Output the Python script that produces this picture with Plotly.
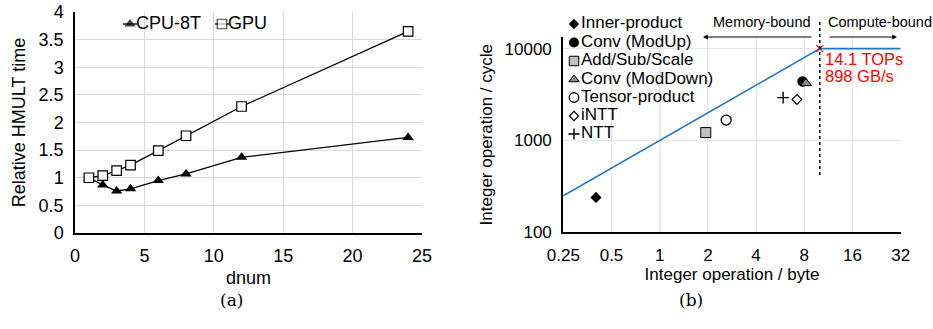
import plotly.graph_objects as go
import math

# ---------------- data ----------------
dnum = [1, 2, 3, 4, 6, 8, 12, 24]
cpu_8t = [1.0, 0.87, 0.76, 0.80, 0.95, 1.07, 1.37, 1.73]
gpu = [1.0, 1.04, 1.13, 1.23, 1.49, 1.76, 2.29, 3.65]

left_yticks = [0, 0.5, 1, 1.5, 2, 2.5, 3, 3.5, 4]
left_xticks = [0, 5, 10, 15, 20, 25]

kernel_names = ["Inner-product", "Conv (ModUp)", "Add/Sub/Scale", "Conv (ModDown)",
                "Tensor-product", "iNTT", "NTT"]
kernel_intensity = [0.40, 7.8, 1.94, 8.2, 2.6, 7.2, 5.9]      # int op / byte
kernel_perf = [240, 4400, 1220, 4200, 1670, 2800, 2930]       # int op / cycle

roof_x = [0.25, 10, 32]
roof_y = [250, 10000, 10000]
ridge_x = [10]
ridge_y = [10000]

right_xticks = [0.25, 0.5, 1, 2, 4, 8, 16, 32]
right_xticklabels = ["0.25", "0.5", "1", "2", "4", "8", "16", "32"]
right_yticks = [100, 1000, 10000]

# ---------------- layout helpers ----------------
W, H = 933, 329
def px(x):
    return x / W
def py(y):
    return 1 - y / H

SANS = "Liberation Sans, Arial, sans-serif"
SERIF = "DejaVu Serif, Liberation Serif, serif"

fig = go.Figure()

# left chart
fig.add_trace(go.Scatter(x=dnum, y=cpu_8t, mode="lines+markers", name="CPU-8T",
                         line=dict(color="black", width=1.3),
                         marker=dict(symbol="triangle-up", size=10, color="black"),
                         xaxis="x", yaxis="y", showlegend=False))
fig.add_trace(go.Scatter(x=dnum, y=gpu, mode="lines+markers", name="GPU",
                         line=dict(color="black", width=1.3),
                         marker=dict(symbol="square", size=9.5, color="white",
                                     line=dict(color="black", width=1.2)),
                         xaxis="x", yaxis="y", showlegend=False))

# right chart roofline
fig.add_trace(go.Scatter(x=roof_x, y=roof_y, mode="lines",
                         line=dict(color="#1f77c4", width=1.6),
                         xaxis="x2", yaxis="y2", showlegend=False))
fig.add_trace(go.Scatter(x=ridge_x, y=ridge_y, mode="markers",
                         marker=dict(symbol="x-thin", size=7, color="red",
                                     line=dict(color="red", width=1.2)),
                         xaxis="x2", yaxis="y2", showlegend=False, cliponaxis=False))

k_symbols = ["diamond", "circle", "square", "triangle-up", "circle",
             "diamond", "cross-thin"]
k_colors = ["black", "black", "#bfbfbf", "#8c8c8c", "white", "white", "black"]
k_sizes = [8.5, 10.5, 10, 9.5, 10, 7.5, 8.5]
k_line_w = [0, 0, 1, 1, 1.3, 1.2, 1.4]

for i, n in enumerate(kernel_names):
    fig.add_trace(go.Scatter(x=[kernel_intensity[i]], y=[kernel_perf[i]], mode="markers",
                             name=n,
                             marker=dict(symbol=k_symbols[i], size=k_sizes[i],
                                         color=k_colors[i],
                                         line=dict(color="black", width=k_line_w[i])),
                             xaxis="x2", yaxis="y2", showlegend=False))

# manual legends on a hidden pixel-like axis
leg_right_x = 574
leg_right_y = [24, 42.5, 61, 79.5, 97.5, 116, 134]
for i, n in enumerate(kernel_names):
    fig.add_trace(go.Scatter(x=[leg_right_x], y=[leg_right_y[i]], mode="markers",
                             marker=dict(symbol=k_symbols[i], size=k_sizes[i] - 0.5,
                                         color=k_colors[i],
                                         line=dict(color="black", width=k_line_w[i])),
                             xaxis="x3", yaxis="y3", showlegend=False, cliponaxis=False))
    fig.add_trace(go.Scatter(x=[leg_right_x + 7], y=[leg_right_y[i]], mode="text",
                             text=[n], textposition="middle right",
                             textfont=dict(family=SANS, size=17, color="black"),
                             xaxis="x3", yaxis="y3", showlegend=False, cliponaxis=False))

leg_left = [("CPU-8T", "triangle-up", "black", 0, 130, 10),
            ("GPU", "square", "white", 1.2, 222, 9.5)]
for name, sym, col, lw, cx, sz in leg_left:
    fig.add_trace(go.Scatter(x=[cx - 7, cx, cx + 7], y=[24, 24, 24], mode="lines+markers",
                             line=dict(color="black", width=1.3),
                             marker=dict(symbol=sym, size=[0, sz, 0], color=col,
                                         line=dict(color="black", width=lw)),
                             xaxis="x3", yaxis="y3", showlegend=False, cliponaxis=False))
    fig.add_trace(go.Scatter(x=[cx + 6], y=[24], mode="text", text=[name],
                             textposition="middle right",
                             textfont=dict(family=SANS, size=18, color="black"),
                             xaxis="x3", yaxis="y3", showlegend=False, cliponaxis=False))

axis_font = dict(family=SANS, size=18, color="black")
axis_font_r = dict(family=SANS, size=17, color="black")

fig.update_layout(
    width=W, height=H,
    margin=dict(l=0, r=0, t=0, b=0, autoexpand=False),
    paper_bgcolor="white",
    plot_bgcolor="rgba(0,0,0,0)",
    xaxis=dict(domain=[px(75), px(422)], anchor="y", range=[0, 25], automargin=False,
               tickvals=left_xticks, showgrid=True, gridcolor="#d9d9d9", gridwidth=1,
               showline=True, linecolor="black", linewidth=1.5, zeroline=False,
               tickfont=axis_font, ticks="outside", ticklen=6, tickcolor="rgba(0,0,0,0)",
               title=dict(text="dnum", font=axis_font, standoff=6)),
    yaxis=dict(domain=[py(233), py(12)], anchor="x", range=[0, 4], automargin=False,
               tickvals=left_yticks, ticktext=[f"{v:g}" for v in left_yticks],
               showgrid=True, gridcolor="#d9d9d9", gridwidth=1,
               showline=True, linecolor="black", linewidth=1.5, zeroline=False,
               tickfont=axis_font, ticks="outside", ticklen=6, tickcolor="rgba(0,0,0,0)",
               title=dict(text="Relative HMULT time", font=axis_font, standoff=8)),
    xaxis2=dict(domain=[px(563.3), px(900.7)], anchor="y2", type="log", automargin=False,
                range=[math.log10(0.25), math.log10(32)],
                tickvals=right_xticks, ticktext=right_xticklabels,
                showgrid=True, gridcolor="#e6e6e6", gridwidth=1,
                showline=True, linecolor="black", linewidth=2.2, zeroline=False,
                tickfont=axis_font_r, ticks="outside", ticklen=6, tickcolor="rgba(0,0,0,0)",
                title=dict(text="Integer operation / byte", font=axis_font_r, standoff=4)),
    yaxis2=dict(domain=[py(232.3), py(37)], anchor="x2", type="log", automargin=False,
                range=[2, 4.127],
                tickvals=right_yticks, ticktext=[str(v) for v in right_yticks],
                showgrid=True, gridcolor="#e6e6e6", gridwidth=1,
                showline=True, linecolor="black", linewidth=2.2, zeroline=False,
                tickfont=axis_font_r, ticks="outside", ticklen=6, tickcolor="rgba(0,0,0,0)",
                title=dict(text="Integer operation / cycle", font=axis_font_r, standoff=8)),
    xaxis3=dict(domain=[0, 1], anchor="y3", range=[0, W], visible=False, fixedrange=True,
                automargin=False),
    yaxis3=dict(domain=[0, 1], anchor="x3", range=[H, 0], visible=False, fixedrange=True,
                automargin=False),
)

# darker gridline at x = 1
fig.add_shape(type="line", xref="x2", yref="y2 domain", x0=1, x1=1, y0=0, y1=1,
              line=dict(color="#bfbfbf", width=1.2), layer="below")
# dotted ridge line
fig.add_shape(type="line", xref="x2", yref="paper", x0=ridge_x[0], x1=ridge_x[0],
              y0=py(175), y1=py(19), line=dict(color="black", width=1.5, dash="dot"))

ann = []
ann.append(dict(x=px(823), y=py(59), xref="paper", yref="paper", text="14.1 TOPs",
                showarrow=False, xanchor="left", yanchor="middle",
                font=dict(family=SANS, size=16.5, color="red")))
ann.append(dict(x=px(823), y=py(76.5), xref="paper", yref="paper", text="898 GB/s",
                showarrow=False, xanchor="left", yanchor="middle",
                font=dict(family=SANS, size=16.5, color="red")))
ann.append(dict(x=px(813), y=py(22), xref="paper", yref="paper", text="Memory-bound",
                showarrow=False, xanchor="right", yanchor="middle",
                font=dict(family=SANS, size=14.5, color="black")))
ann.append(dict(x=px(826), y=py(22), xref="paper", yref="paper", text="Compute-bound",
                showarrow=False, xanchor="left", yanchor="middle",
                font=dict(family=SANS, size=14.5, color="black")))
ann.append(dict(x=px(703), y=py(37), xref="paper", yref="paper", text="",
                showarrow=True, ax=110, ay=0, arrowhead=2, arrowsize=0.8,
                arrowwidth=1.2, arrowcolor="black"))
ann.append(dict(x=px(897), y=py(37), xref="paper", yref="paper", text="",
                showarrow=True, ax=-69, ay=0, arrowhead=2, arrowsize=0.8,
                arrowwidth=1.2, arrowcolor="black"))
ann.append(dict(x=px(218), y=py(312), xref="paper", yref="paper", text="(a)",
                showarrow=False, font=dict(family=SERIF, size=17, color="black")))
ann.append(dict(x=px(705), y=py(312), xref="paper", yref="paper", text="(b)",
                showarrow=False, font=dict(family=SERIF, size=17, color="black")))
fig.update_layout(annotations=ann)

fig.write_html("out.html")
